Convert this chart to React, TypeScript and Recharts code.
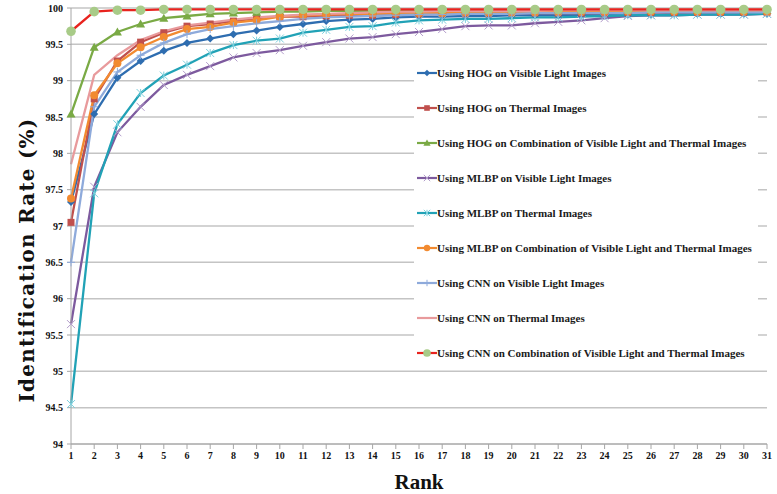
import React from 'react';
import { LineChart, Line, XAxis, YAxis, CartesianGrid, Legend } from 'recharts';

const ranks = Array.from({ length: 31 }, (_, i) => i + 1);
const yTicks = [94, 94.5, 95, 95.5, 96, 96.5, 97, 97.5, 98, 98.5, 99, 99.5, 100];

const hogVisible = [97.33, 98.54, 99.04, 99.27, 99.41, 99.52, 99.58, 99.64, 99.69, 99.74, 99.78, 99.82, 99.84, 99.85, 99.87, 99.88, 99.88, 99.89, 99.89, 99.9, 99.9, 99.9, 99.9, 99.91, 99.91, 99.91, 99.92, 99.92, 99.92, 99.92, 99.92];
const hogThermal = [97.05, 98.75, 99.27, 99.53, 99.66, 99.75, 99.78, 99.82, 99.86, 99.88, 99.88, 99.89, 99.9, 99.9, 99.91, 99.91, 99.92, 99.92, 99.92, 99.93, 99.93, 99.93, 99.93, 99.93, 99.94, 99.94, 99.94, 99.94, 99.94, 99.94, 99.94];
const hogCombo = [98.54, 99.46, 99.67, 99.78, 99.86, 99.89, 99.92, 99.93, 99.94, 99.95, 99.95, 99.96, 99.96, 99.96, 99.96, 99.96, 99.96, 99.96, 99.96, 99.97, 99.97, 99.97, 99.97, 99.97, 99.97, 99.97, 99.97, 99.97, 99.97, 99.97, 99.97];
const mlbpVisible = [95.65, 97.54, 98.29, 98.64, 98.94, 99.08, 99.2, 99.32, 99.38, 99.42, 99.48, 99.53, 99.58, 99.6, 99.64, 99.67, 99.71, 99.75, 99.76, 99.76, 99.79, 99.81, 99.83, 99.86, 99.89, 99.9, 99.9, 99.91, 99.91, 99.91, 99.92];
const mlbpThermal = [94.55, 97.45, 98.4, 98.83, 99.07, 99.22, 99.38, 99.49, 99.55, 99.58, 99.66, 99.7, 99.74, 99.75, 99.8, 99.83, 99.84, 99.85, 99.85, 99.86, 99.87, 99.87, 99.88, 99.89, 99.9, 99.9, 99.9, 99.91, 99.91, 99.91, 99.92];
const mlbpCombo = [97.38, 98.8, 99.24, 99.46, 99.6, 99.71, 99.74, 99.8, 99.83, 99.88, 99.9, 99.91, 99.92, 99.92, 99.93, 99.93, 99.93, 99.94, 99.94, 99.94, 99.94, 99.95, 99.95, 99.95, 99.95, 99.95, 99.95, 99.95, 99.95, 99.95, 99.95];
const cnnVisible = [96.5, 98.64, 99.12, 99.35, 99.52, 99.64, 99.71, 99.75, 99.79, 99.82, 99.85, 99.87, 99.88, 99.89, 99.9, 99.91, 99.91, 99.92, 99.92, 99.92, 99.93, 99.93, 99.93, 99.93, 99.93, 99.94, 99.94, 99.94, 99.94, 99.94, 99.94];
const cnnThermal = [97.85, 99.08, 99.35, 99.56, 99.68, 99.76, 99.8, 99.84, 99.87, 99.89, 99.91, 99.92, 99.93, 99.94, 99.95, 99.95, 99.96, 99.96, 99.96, 99.96, 99.96, 99.97, 99.97, 99.97, 99.97, 99.97, 99.97, 99.97, 99.97, 99.97, 99.97];
const cnnCombo = [99.68, 99.95, 99.97, 99.97, 99.98, 99.98, 99.98, 99.98, 99.98, 99.98, 99.98, 99.98, 99.98, 99.98, 99.98, 99.98, 99.98, 99.98, 99.98, 99.98, 99.98, 99.98, 99.98, 99.98, 99.98, 99.98, 99.98, 99.98, 99.98, 99.98, 99.98];

const seriesNames = [
  'Using HOG on Visible Light Images',
  'Using HOG on Thermal Images',
  'Using HOG on Combination of Visible Light and Thermal Images',
  'Using MLBP on Visible Light Images',
  'Using MLBP on Thermal Images',
  'Using MLBP on Combination of Visible Light and Thermal Images',
  'Using CNN on Visible Light Images',
  'Using CNN on Thermal Images',
  'Using CNN on Combination of Visible Light and Thermal Images',
];

const data = ranks.map((r, i) => ({
  rank: r,
  s0: hogVisible[i],
  s1: hogThermal[i],
  s2: hogCombo[i],
  s3: mlbpVisible[i],
  s4: mlbpThermal[i],
  s5: mlbpCombo[i],
  s6: cnnVisible[i],
  s7: cnnThermal[i],
  s8: cnnCombo[i],
}));

type Shape = 'diamond' | 'square' | 'triangle' | 'x' | 'star' | 'circle' | 'plus' | 'none' | 'bigcircle';

const styles: { key: string; stroke: string; marker: string; shape: Shape }[] = [
  { key: 's0', stroke: '#2E6DB0', marker: '#2E6DB0', shape: 'diamond' },
  { key: 's1', stroke: '#C0504D', marker: '#C0504D', shape: 'square' },
  { key: 's2', stroke: '#7AAA45', marker: '#7AAA45', shape: 'triangle' },
  { key: 's3', stroke: '#7D5A9E', marker: '#B39DCB', shape: 'x' },
  { key: 's4', stroke: '#21A2B6', marker: '#7DD0DD', shape: 'star' },
  { key: 's5', stroke: '#F28A30', marker: '#F28A30', shape: 'circle' },
  { key: 's6', stroke: '#8EAADB', marker: '#8EAADB', shape: 'plus' },
  { key: 's7', stroke: '#E89A9C', marker: '#E89A9C', shape: 'none' },
  { key: 's8', stroke: '#E8231E', marker: '#A8CB88', shape: 'bigcircle' },
];

function markerEl(shape: Shape, cx: number, cy: number, color: string, key?: string, scale = 1) {
  const r = 4 * scale;
  switch (shape) {
    case 'diamond':
      return <polygon key={key} points={`${cx},${cy - r} ${cx + r},${cy} ${cx},${cy + r} ${cx - r},${cy}`} fill={color} />;
    case 'square':
      return <rect key={key} x={cx - 3.5 * scale} y={cy - 3.5 * scale} width={7 * scale} height={7 * scale} fill={color} />;
    case 'triangle':
      return <polygon key={key} points={`${cx},${cy - 4.5 * scale} ${cx + 4.5 * scale},${cy + 3.5 * scale} ${cx - 4.5 * scale},${cy + 3.5 * scale}`} fill={color} />;
    case 'x':
      return (
        <g key={key} stroke={color} strokeWidth={1}>
          <line x1={cx - r} y1={cy - r} x2={cx + r} y2={cy + r} />
          <line x1={cx - r} y1={cy + r} x2={cx + r} y2={cy - r} />
        </g>
      );
    case 'star':
      return (
        <g key={key} stroke={color} strokeWidth={1}>
          <line x1={cx - r} y1={cy - r} x2={cx + r} y2={cy + r} />
          <line x1={cx - r} y1={cy + r} x2={cx + r} y2={cy - r} />
          <line x1={cx} y1={cy - r} x2={cx} y2={cy + r} />
        </g>
      );
    case 'circle':
      return <circle key={key} cx={cx} cy={cy} r={4 * scale} fill={color} />;
    case 'plus':
      return (
        <g key={key} stroke={color} strokeWidth={1}>
          <line x1={cx - r} y1={cy} x2={cx + r} y2={cy} />
          <line x1={cx} y1={cy - r} x2={cx} y2={cy + r} />
        </g>
      );
    case 'bigcircle':
      return <circle key={key} cx={cx} cy={cy} r={4.8 * scale} fill={color} />;
    default:
      return <g key={key} />;
  }
}

const makeDot = (shape: Shape, color: string) => (props: any) => {
  const { cx, cy, index } = props;
  if (cx == null || cy == null) return <g key={`d-${index}`} />;
  return markerEl(shape, cx, cy, color, `d-${index}`);
};

const legendFont = '"Liberation Serif", "DejaVu Serif", serif';

const LegendBox = () => (
  <div
    style={{
      background: '#fff',
      width: 344,
      height: 316,
      boxSizing: 'border-box',
      paddingTop: 5,
    }}
  >
    {styles.map((s, i) => (
      <div key={s.key} style={{ display: 'flex', alignItems: 'center', height: 35 }}>
        <svg width={20} height={12} style={{ marginLeft: 3, flex: 'none' }}>
          <line x1={0} y1={6} x2={20} y2={6} stroke={s.stroke} strokeWidth={2.2} />
          {markerEl(s.shape, 10, 6, s.marker, undefined, 0.8)}
        </svg>
        <span
          style={{
            fontFamily: legendFont,
            fontWeight: 'bold',
            fontSize: 11,
            color: '#1a1a1a',
            whiteSpace: 'nowrap',
          }}
        >
          {seriesNames[i]}
        </span>
      </div>
    ))}
  </div>
);

const axisFont = '"Liberation Serif", "DejaVu Serif", serif';

const YTitle = () => (
  <text
    x={27}
    y={260}
    transform="rotate(-90 27 260)"
    textAnchor="middle"
    dominantBaseline="central"
    style={{ fontFamily: '"DejaVu Serif", serif', fontWeight: 'bold', fontSize: 20, letterSpacing: 1.2, fill: '#111' }}
  >
    Identification Rate (%)
  </text>
);

export default function App() {
  return (
    <div style={{ position: 'absolute', left: 0, top: 0, width: 777, height: 494, background: '#fff' }}>
      <LineChart width={777} height={494} data={data} margin={{ top: 8, right: 10, bottom: 0, left: 0 }}>
        <CartesianGrid horizontal vertical={false} stroke="#C4C4C4" strokeWidth={1.5} />
        <XAxis
          dataKey="rank"
          type="number"
          domain={[1, 31]}
          ticks={ranks}
          interval={0}
          height={50}
          stroke="#A6A6A6"
          tickSize={5}
          tickMargin={3}
          tick={{ fontFamily: axisFont, fontWeight: 'bold', fontSize: 10, fill: '#111' }}
          label={{
            value: 'Rank',
            position: 'insideBottom',
            offset: 5,
            style: { fontFamily: '"Liberation Serif", serif', fontWeight: 'bold', fontSize: 21, fill: '#111' },
          }}
        />
        <YAxis
          type="number"
          domain={[94, 100]}
          ticks={yTicks}
          interval={0}
          width={71}
          stroke="#A6A6A6"
          tickSize={4}
          tickMargin={4}
          tick={{ fontFamily: axisFont, fontWeight: 'bold', fontSize: 10, fill: '#111' }}
        />
        <YTitle />
        <Legend
          layout="vertical"
          align="center"
          verticalAlign="middle"
          content={() => <LegendBox />}
          wrapperStyle={{ left: 414, top: 50, width: 344, height: 316 }}
        />
        {styles.map((s, i) => (
          <Line
            key={s.key}
            dataKey={s.key}
            name={seriesNames[i]}
            type="linear"
            stroke={s.stroke}
            strokeWidth={2.3}
            dot={makeDot(s.shape, s.marker)}
            activeDot={false}
            isAnimationActive={false}
          />
        ))}
      </LineChart>
    </div>
  );
}
